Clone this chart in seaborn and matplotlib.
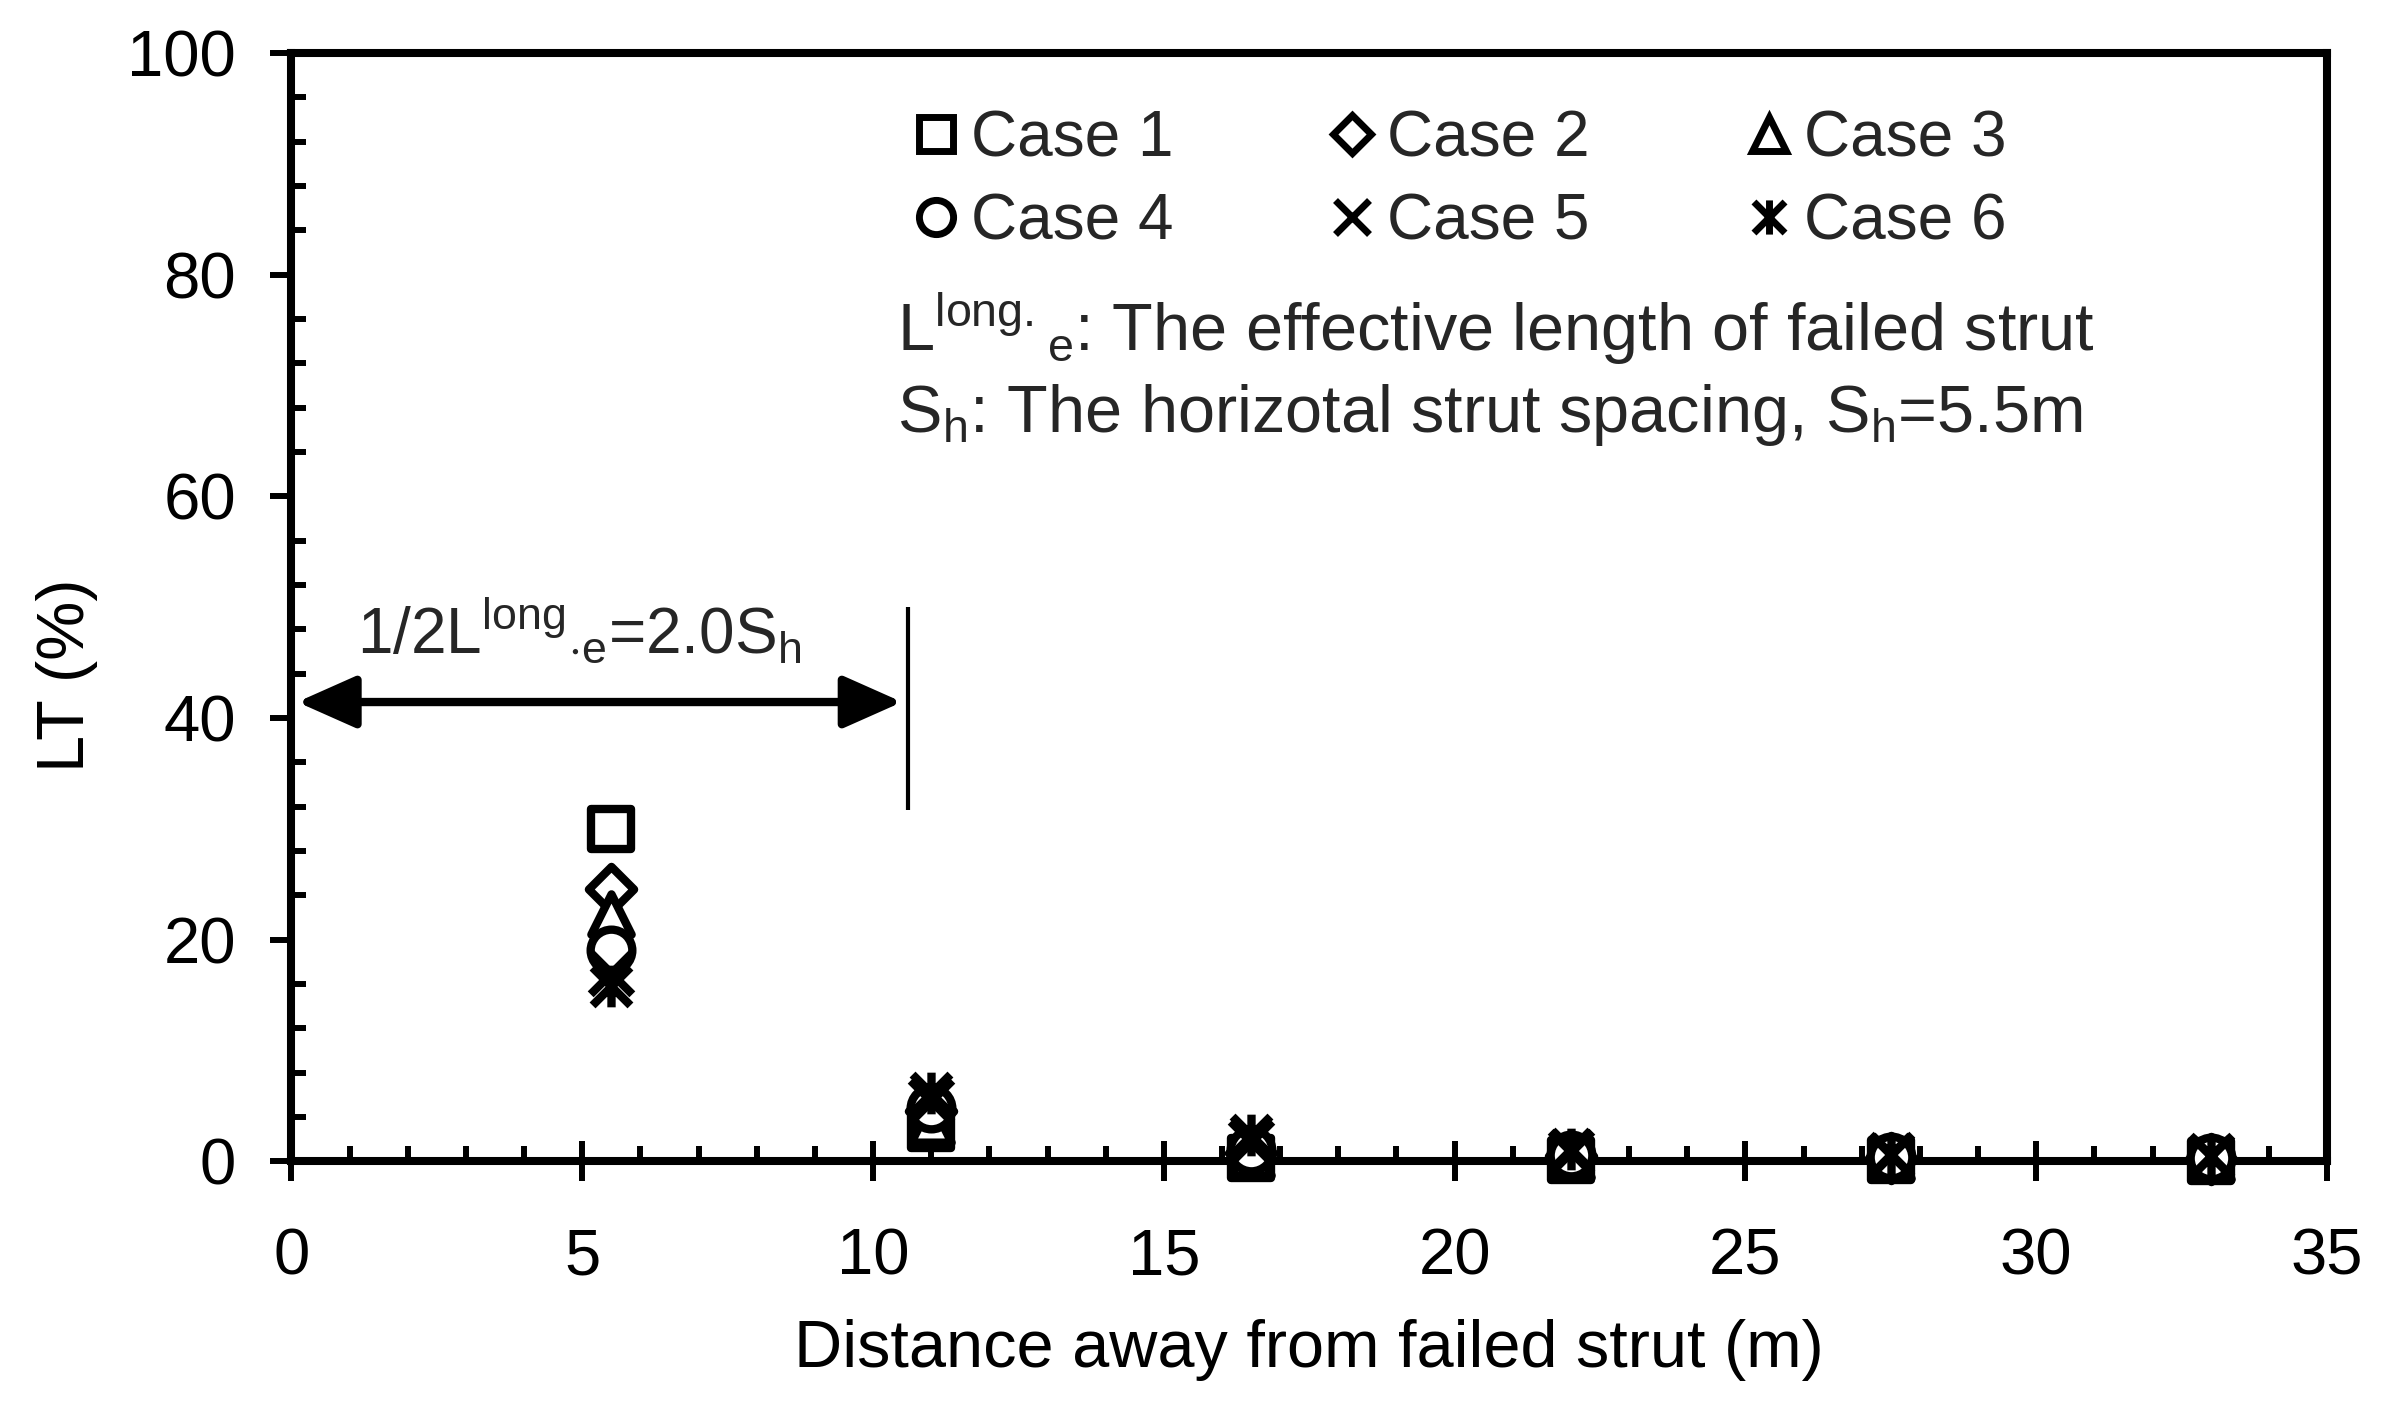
import matplotlib
matplotlib.use("Agg")
import matplotlib.pyplot as plt
import seaborn as sns
import pandas as pd
from matplotlib.path import Path
from matplotlib.lines import Line2D
from matplotlib.ticker import MultipleLocator

# values
distance = [5.5, 11, 16.5, 22, 27.5, 33]
case1 = [30.0, 3.0, 0.3, 0.1, 0.1, 0.0]
case2 = [24.6, 4.6, 0.8, 0.5, 0.3, 0.2]
case3 = [22.3, 3.6, 0.6, 0.4, 0.3, 0.2]
case4 = [19.1, 4.8, 1.0, 0.6, 0.4, 0.3]
case5 = [17.0, 5.5, 1.8, 0.9, 0.6, 0.5]
case6 = [15.8, 6.2, 2.4, 1.1, 0.7, 0.5]
case_names = ["Case 1", "Case 2", "Case 3", "Case 4", "Case 5", "Case 6"]

df = pd.DataFrame({
    "distance": distance * 6,
    "LT": case1 + case2 + case3 + case4 + case5 + case6,
    "case": [c for c in case_names for _ in distance],
})

sns.set_theme(style="white")
plt.rcParams["font.family"] = ["Liberation Sans", "DejaVu Sans"]
plt.rcParams["mathtext.default"] = "regular"

# excel style asterisk: x with a vertical bar
asterisk = Path([(-0.5, -0.5), (0.5, 0.5), (-0.5, 0.5), (0.5, -0.5), (0, -0.55), (0, 0.55)],
                [Path.MOVETO, Path.LINETO] * 3)
markers = ["s", "D", "^", "o", "x", asterisk]
msizes = [29, 23, 29, 30, 30, 30]

fig = plt.figure(figsize=(23.83, 14.06), dpi=100)
ax = fig.add_axes([0.1223, 0.1739, 0.9765 - 0.1223, 0.9623 - 0.1739])

for name, m, ms in zip(case_names, markers, msizes):
    sub = df[df["case"] == name]
    if isinstance(m, str) and m == "x":
        sns.scatterplot(data=sub, x="distance", y="LT", marker=m, s=ms ** 2, color="black",
                        linewidth=6, ax=ax, clip_on=False, zorder=3, legend=False)
    else:
        sns.scatterplot(data=sub, x="distance", y="LT", marker=m, s=ms ** 2, color="white",
                        edgecolor="black", linewidth=6, ax=ax, clip_on=False, zorder=3,
                        legend=False)

ax.set_xlim(0, 35)
ax.set_ylim(0, 100)
ax.xaxis.set_major_locator(MultipleLocator(5))
ax.xaxis.set_minor_locator(MultipleLocator(1))
ax.yaxis.set_major_locator(MultipleLocator(20))
ax.yaxis.set_minor_locator(MultipleLocator(4))

for sp in ax.spines.values():
    sp.set_visible(True)
    sp.set_color("black")
    sp.set_linewidth(5.8)

ax.tick_params(which="both", bottom=True, left=True, top=False, right=False, colors="black")
ax.tick_params(axis="x", which="major", direction="inout", length=29, width=4.3, pad=33, labelsize=47)
ax.tick_params(axis="y", which="major", direction="out", length=15, width=4.3, pad=25, labelsize=47)
ax.tick_params(which="minor", direction="in", length=11, width=4.3)

ax.set_xlabel("Distance away from failed strut (m)", fontsize=48, color="black")
ax.set_ylabel("LT (%)", fontsize=48, color="black")
ax.xaxis.set_label_coords(0.5, -0.142)
ax.yaxis.set_label_coords(-0.095, 0.439)

# legend, row-wise order
handles = [Line2D([], [], marker=m, linestyle="none", markersize=ms * 0.82,
                  markerfacecolor="white", markeredgecolor="black", markeredgewidth=5,
                  color="black") for m, ms in zip(markers, msizes)]
order = [0, 3, 1, 4, 2, 5]
ax.legend([handles[i] for i in order], [case_names[i] for i in order], ncol=3,
          loc="upper left", bbox_to_anchor=(0.3039, 0.949), frameon=False, fontsize=46,
          handlelength=0.8, handletextpad=0.15, columnspacing=2.4, labelspacing=0.36,
          borderpad=0, borderaxespad=0)

ax.text(0.2975, 0.7312, r"L$^{long.}$$_{e}$: The effective length of failed strut",
        transform=ax.transAxes, fontsize=48, va="baseline", ha="left")
ax.text(0.2975, 0.6581, r"S$_{h}$: The horizotal strut spacing, S$_{h}$=5.5m",
        transform=ax.transAxes, fontsize=48, va="baseline", ha="left")

# half effective length arrow
ax.annotate("", xy=(0.1, 41.45), xytext=(10.5, 41.45),
            arrowprops=dict(arrowstyle="<|-|>,head_length=0.9,head_width=0.4",
                            mutation_scale=40, lw=6, color="black", shrinkA=0, shrinkB=0))
ax.vlines(10.6, 31.7, 50, color="black", lw=3)
ax.text(1.13, 45.8, r"1/2L$^{long}$$_{\cdot e}$=2.0S$_{h}$", fontsize=46, va="baseline", ha="left")

fig.savefig("out.png", dpi=100)
